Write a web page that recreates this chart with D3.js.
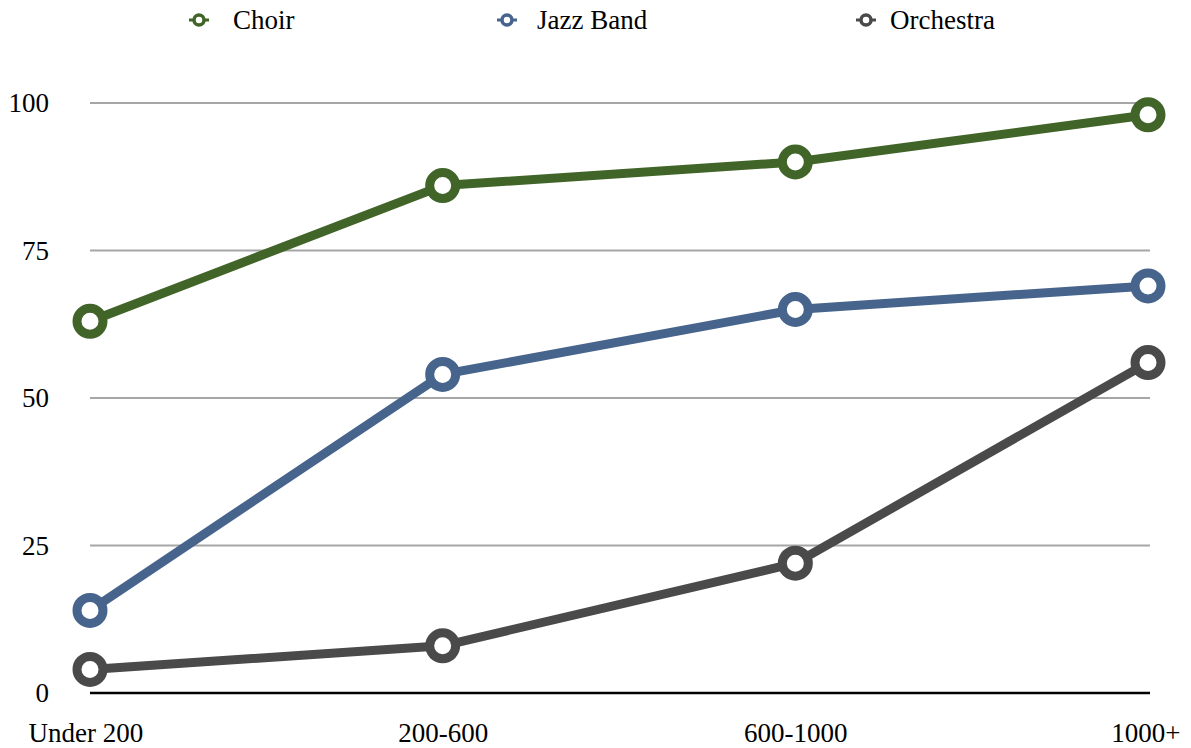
<!DOCTYPE html>
<html><head><meta charset="utf-8">
<script src="https://cdn.jsdelivr.net/npm/d3@7"></script>
<style>
html,body{margin:0;padding:0;background:#fff;}
text{font-family:"Liberation Serif",serif;fill:#000;}
</style></head>
<body>
<svg id="chart" width="1191" height="748"></svg>
<script>
const categories = ["Under 200", "200-600", "600-1000", "1000+"];
const seriesNames = ["Choir", "Jazz Band", "Orchestra"];
const choir = [63, 86, 90, 98];
const jazzBand = [14, 54, 65, 69];
const orchestra = [4, 8, 22, 56];
const yTicks = [0, 25, 50, 75, 100];
const colors = ["#416428", "#46648c", "#4a4a4a"];

(function () {
const FONT = "Liberation Serif";
const FS = 27;
const series = [
  {name: seriesNames[0], values: choir, color: colors[0]},
  {name: seriesNames[1], values: jazzBand, color: colors[1]},
  {name: seriesNames[2], values: orchestra, color: colors[2]}
];

const svg = d3.select("#chart");
const mLeft = 90, mRight = 1148, mTop = 103, mBottom = 693;

const x = d3.scalePoint().domain(categories).range([mLeft, mRight]);
const y = d3.scaleLinear().domain([0, 100]).range([mBottom, mTop]);

svg.append("g").selectAll("line").data(yTicks.filter(d => d > 0)).join("line")
  .attr("x1", mLeft).attr("x2", mRight + 2)
  .attr("y1", d => y(d)).attr("y2", d => y(d))
  .attr("stroke", "#a6a6a6").attr("stroke-width", 2);

const yAxis = d3.axisLeft(y).tickValues(yTicks).tickSize(0).tickPadding(0);
const yg = svg.append("g").attr("transform", `translate(49,0)`).call(yAxis);
yg.select(".domain").remove();
yg.selectAll("text").attr("font-size", FS).attr("font-family", FONT).attr("fill", "#000").attr("dy", "0.33em");

svg.append("line").attr("x1", mLeft).attr("x2", mRight + 2)
  .attr("y1", mBottom).attr("y2", mBottom).attr("stroke", "#000").attr("stroke-width", 2.5);

const xAxis = d3.axisBottom(x).tickSize(0).tickPadding(0);
const xg = svg.append("g").attr("transform", `translate(0,${mBottom + 40})`).call(xAxis);
xg.select(".domain").remove();
xg.selectAll("text").attr("font-size", FS).attr("font-family", FONT).attr("fill", "#000").attr("dy", "0.33em")
  .attr("text-anchor", (d, i) => i === categories.length - 1 ? "end" : (i === 0 ? "start" : "middle"))
  .attr("dx", (d, i) => i === categories.length - 1 ? 32 : (i === 0 ? -62 : 0));

const line = d3.line().x((d, i) => x(categories[i])).y(d => y(d));

series.forEach(s => {
  svg.append("path").attr("d", line(s.values)).attr("fill", "none")
    .attr("stroke", s.color).attr("stroke-width", 9).attr("stroke-linejoin", "round");
});
series.forEach(s => {
  svg.append("g").selectAll("circle").data(s.values).join("circle")
    .attr("cx", (d, i) => x(categories[i])).attr("cy", d => y(d))
    .attr("r", 13).attr("fill", "#fff").attr("stroke", s.color).attr("stroke-width", 9);
});

const legendMarkX = [199, 507, 866];
const legendTextX = [233, 537, 890];
const lg = svg.append("g");
series.forEach((s, i) => {
  const g = lg.append("g").attr("transform", `translate(${legendMarkX[i]},20)`);
  g.append("line").attr("x1", -10).attr("x2", 10).attr("y1", 0).attr("y2", 0)
    .attr("stroke", s.color).attr("stroke-width", 3);
  g.append("circle").attr("r", 5).attr("fill", "#fff").attr("stroke", s.color).attr("stroke-width", 3.5);
  lg.append("text").attr("x", legendTextX[i]).attr("y", 20).attr("dy", "0.33em")
    .attr("font-size", FS).attr("font-family", FONT).text(s.name);
});
})();
</script>
</body></html>
